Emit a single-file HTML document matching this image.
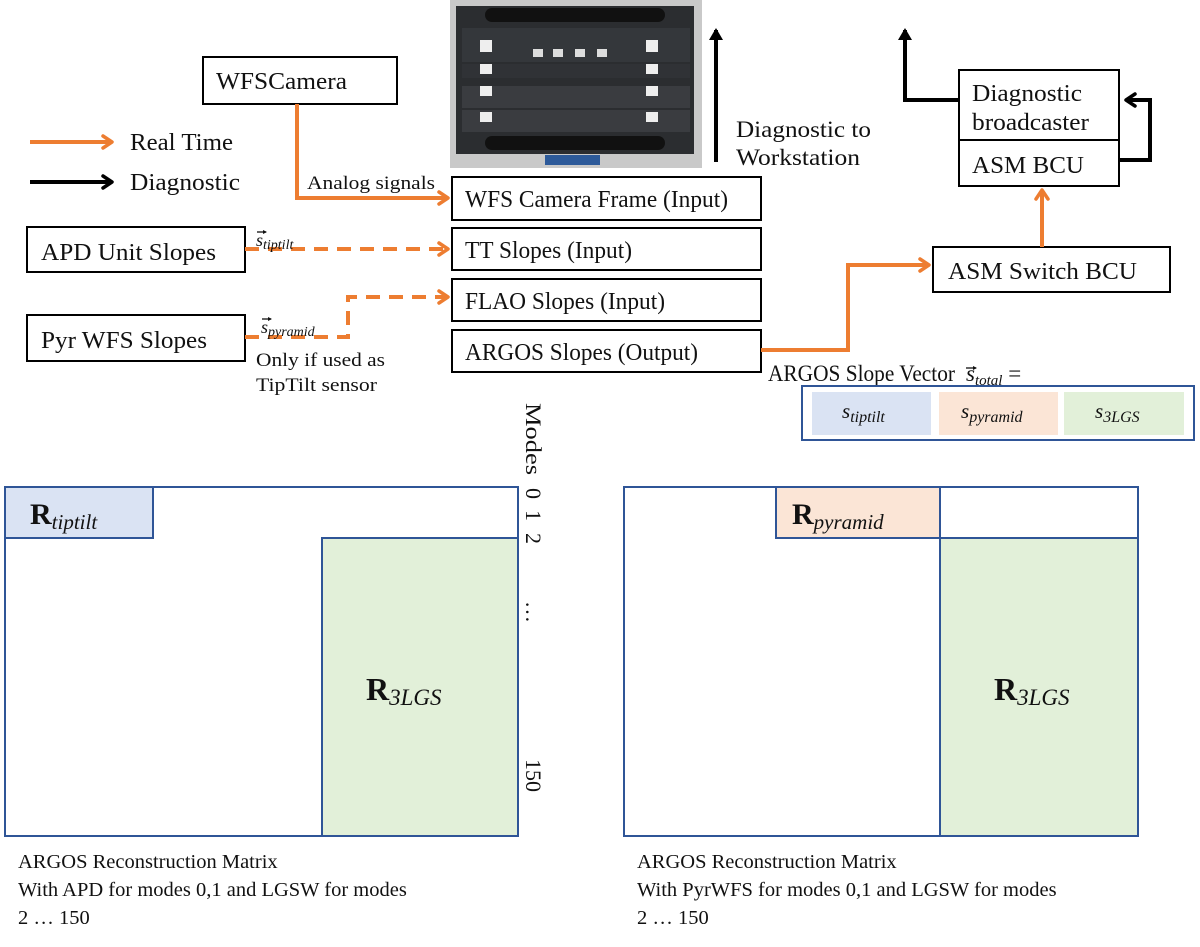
<!DOCTYPE html>
<html><head><meta charset="utf-8"><style>
html,body{margin:0;padding:0;background:#fff}
svg{display:block}
text{font-family:"Liberation Serif",serif;fill:#111}
.m{font-style:italic}
</style></head><body>
<svg width="1200" height="947" viewBox="0 0 1200 947" xmlns="http://www.w3.org/2000/svg">
<defs>
<marker id="ao" markerWidth="14" markerHeight="16" refX="11" refY="8" orient="auto" markerUnits="userSpaceOnUse"><path d="M2,2 L11,8 L2,14" fill="none" stroke="#ed7d31" stroke-width="3.5" stroke-linecap="round" stroke-linejoin="round"/></marker>
<marker id="ab" markerWidth="14" markerHeight="16" refX="11" refY="8" orient="auto" markerUnits="userSpaceOnUse"><path d="M2,2 L11,8 L2,14" fill="none" stroke="#000" stroke-width="3.5" stroke-linecap="round" stroke-linejoin="round"/></marker>
<marker id="abf" markerWidth="12" markerHeight="14" refX="10" refY="7" orient="auto" markerUnits="userSpaceOnUse"><path d="M0,0 L12,7 L0,14 z" fill="#000"/></marker>
<marker id="av" markerWidth="4" markerHeight="4" refX="3" refY="2" orient="auto" markerUnits="userSpaceOnUse"><path d="M0,0 L4,2 L0,4 z" fill="#111"/></marker>
</defs>
<!-- photo -->
<rect x="450" y="0" width="252" height="168" fill="#c9c9c9"/>
<rect x="456" y="6" width="238" height="148" fill="#2b2d30"/>
<rect x="485" y="8" width="180" height="14" rx="7" fill="#111"/>
<rect x="485" y="136" width="180" height="14" rx="7" fill="#111"/>
<rect x="462" y="28" width="228" height="34" fill="#34373b"/>
<rect x="462" y="64" width="228" height="14" fill="#303236"/>
<rect x="462" y="86" width="228" height="22" fill="#3a3c40"/>
<rect x="462" y="110" width="228" height="22" fill="#3a3c40"/>
<rect x="480" y="40" width="12" height="12" fill="#eee"/><rect x="646" y="40" width="12" height="12" fill="#eee"/>
<rect x="480" y="64" width="12" height="10" fill="#eee"/><rect x="646" y="64" width="12" height="10" fill="#eee"/>
<rect x="480" y="86" width="12" height="10" fill="#eee"/><rect x="646" y="86" width="12" height="10" fill="#eee"/>
<rect x="480" y="112" width="12" height="10" fill="#eee"/><rect x="646" y="112" width="12" height="10" fill="#eee"/>
<rect x="533" y="49" width="10" height="8" fill="#ddd"/><rect x="553" y="49" width="10" height="8" fill="#ddd"/><rect x="575" y="49" width="10" height="8" fill="#ddd"/><rect x="597" y="49" width="10" height="8" fill="#ddd"/>
<rect x="545" y="155" width="55" height="10" fill="#2d5a9a"/>
<!-- black arrows -->
<line x1="716" y1="162" x2="716" y2="30" stroke="#000" stroke-width="4" marker-end="url(#abf)"/>
<polyline points="959,100 905,100 905,30" fill="none" stroke="#000" stroke-width="4" marker-end="url(#abf)"/>
<polyline points="1119,160 1150,160 1150,100 1126,100" fill="none" stroke="#000" stroke-width="4" marker-end="url(#ab)"/>
<text x="736" y="137" font-size="23" textLength="135" lengthAdjust="spacingAndGlyphs">Diagnostic to</text>
<text x="736" y="165" font-size="23" textLength="124" lengthAdjust="spacingAndGlyphs">Workstation</text>
<!-- legend -->
<line x1="30" y1="142" x2="112" y2="142" stroke="#ed7d31" stroke-width="4" marker-end="url(#ao)"/>
<text x="130" y="150" font-size="24" textLength="103" lengthAdjust="spacingAndGlyphs">Real Time</text>
<line x1="30" y1="182" x2="112" y2="182" stroke="#000" stroke-width="4" marker-end="url(#ab)"/>
<text x="130" y="190" font-size="24" textLength="110" lengthAdjust="spacingAndGlyphs">Diagnostic</text>
<!-- boxes -->
<g fill="#fff" stroke="#000" stroke-width="2">
<rect x="203" y="57" width="194" height="47"/>
<rect x="452" y="177" width="309" height="43"/>
<rect x="452" y="228" width="309" height="42"/>
<rect x="452" y="279" width="309" height="42"/>
<rect x="452" y="330" width="309" height="42"/>
<rect x="27" y="227" width="218" height="45"/>
<rect x="27" y="315" width="218" height="46"/>
<rect x="959" y="70" width="160" height="116"/>
<line x1="959" y1="140" x2="1119" y2="140"/>
<rect x="933" y="247" width="237" height="45"/>
</g>
<g font-size="24">
<text x="216" y="89" textLength="131" lengthAdjust="spacingAndGlyphs">WFSCamera</text>
<text x="465" y="207" textLength="263" lengthAdjust="spacingAndGlyphs">WFS Camera Frame (Input)</text>
<text x="465" y="258" textLength="167" lengthAdjust="spacingAndGlyphs">TT Slopes (Input)</text>
<text x="465" y="309" textLength="200" lengthAdjust="spacingAndGlyphs">FLAO Slopes (Input)</text>
<text x="465" y="360" textLength="233" lengthAdjust="spacingAndGlyphs">ARGOS Slopes (Output)</text>
<text x="41" y="260" textLength="175" lengthAdjust="spacingAndGlyphs">APD Unit Slopes</text>
<text x="41" y="348" textLength="166" lengthAdjust="spacingAndGlyphs">Pyr WFS Slopes</text>
<text x="972" y="101" textLength="110" lengthAdjust="spacingAndGlyphs">Diagnostic</text>
<text x="972" y="130" textLength="117" lengthAdjust="spacingAndGlyphs">broadcaster</text>
<text x="972" y="173" textLength="112" lengthAdjust="spacingAndGlyphs">ASM BCU</text>
<text x="948" y="279" textLength="189" lengthAdjust="spacingAndGlyphs">ASM Switch BCU</text>
</g>
<!-- orange connectors -->
<g fill="none" stroke="#ed7d31" stroke-width="4">
<polyline points="297,104 297,198 448,198" marker-end="url(#ao)"/>
<line x1="245" y1="249" x2="448" y2="249" stroke-dasharray="14,9" marker-end="url(#ao)"/>
<polyline points="245,337 348,337 348,297 448,297" stroke-dasharray="14,9" marker-end="url(#ao)"/>
<polyline points="761,350 848,350 848,265 929,265" marker-end="url(#ao)"/>
<line x1="1042" y1="247" x2="1042" y2="190" marker-end="url(#ao)"/>
</g>
<text x="307" y="189" font-size="19" textLength="128" lengthAdjust="spacingAndGlyphs">Analog signals</text>
<!-- vectors: small arrows -->
<g stroke="#111" stroke-width="1.3" fill="none" marker-end="url(#av)">
<line x1="257" y1="232" x2="266" y2="232"/>
<line x1="262" y1="319" x2="271" y2="319"/>
<line x1="966" y1="368" x2="976" y2="368"/>
<line x1="843" y1="403" x2="853" y2="403"/>
<line x1="962" y1="403" x2="972" y2="403"/>
<line x1="1096" y1="403" x2="1106" y2="403"/>
</g>
<text x="256" y="246" font-size="18" class="m">s<tspan font-size="14" dy="3">tiptilt</tspan></text>
<text x="261" y="333" font-size="18" class="m">s<tspan font-size="14" dy="3">pyramid</tspan></text>
<text x="256" y="366" font-size="19" textLength="129" lengthAdjust="spacingAndGlyphs">Only if used as</text>
<text x="256" y="391" font-size="19" textLength="121" lengthAdjust="spacingAndGlyphs">TipTilt sensor</text>
<!-- slope vector -->
<text x="768" y="381" font-size="23" textLength="187" lengthAdjust="spacingAndGlyphs">ARGOS Slope Vector</text>
<text x="966" y="381" font-size="23" class="m">s<tspan font-size="15" dy="4">total</tspan><tspan dy="-4" font-style="normal"> =</tspan></text>
<rect x="802" y="386" width="392" height="54" fill="#fff" stroke="#2f5597" stroke-width="2"/>
<rect x="812" y="392" width="119" height="43" fill="#dae3f3"/>
<rect x="939" y="392" width="119" height="43" fill="#fbe5d6"/>
<rect x="1064" y="392" width="120" height="43" fill="#e2f0d9"/>
<text x="842" y="418" font-size="21" class="m">s<tspan font-size="16" dy="4">tiptilt</tspan></text>
<text x="961" y="418" font-size="21" class="m">s<tspan font-size="16" dy="4">pyramid</tspan></text>
<text x="1095" y="418" font-size="21" class="m">s<tspan font-size="16" dy="4">3LGS</tspan></text>
<!-- left matrix -->
<rect x="5" y="487" width="513" height="349" fill="#fff" stroke="#2f5597" stroke-width="2"/>
<rect x="5" y="487" width="148" height="51" fill="#dae3f3" stroke="#2f5597" stroke-width="2"/>
<rect x="322" y="538" width="196" height="298" fill="#e2f0d9" stroke="#2f5597" stroke-width="2"/>
<text x="30" y="524" font-size="30" font-weight="bold">R<tspan font-size="21" font-weight="normal" class="m" dy="5">tiptilt</tspan></text>
<text x="366" y="700" font-size="32" font-weight="bold">R<tspan font-size="23" font-weight="normal" class="m" dy="5">3LGS</tspan></text>
<g transform="translate(526,403) rotate(90)" font-size="22">
<text x="0" y="0" textLength="72" lengthAdjust="spacingAndGlyphs">Modes</text><text x="85" y="0">0</text><text x="107" y="0">1</text><text x="130" y="0">2</text>
<text x="198" y="0">…</text><text x="356" y="0">150</text></g>
<!-- right matrix -->
<rect x="624" y="487" width="514" height="349" fill="#fff" stroke="#2f5597" stroke-width="2"/>
<rect x="776" y="487" width="164" height="51" fill="#fbe5d6" stroke="#2f5597" stroke-width="2"/>
<rect x="940" y="487" width="198" height="51" fill="#fff" stroke="#2f5597" stroke-width="2"/>
<rect x="940" y="538" width="198" height="298" fill="#e2f0d9" stroke="#2f5597" stroke-width="2"/>
<text x="792" y="524" font-size="30" font-weight="bold">R<tspan font-size="21" font-weight="normal" class="m" dy="5">pyramid</tspan></text>
<text x="994" y="700" font-size="32" font-weight="bold">R<tspan font-size="23" font-weight="normal" class="m" dy="5">3LGS</tspan></text>
<!-- captions -->
<g font-size="20.5">
<text x="18" y="868">ARGOS Reconstruction Matrix</text>
<text x="18" y="896">With APD for modes 0,1 and LGSW for modes</text>
<text x="18" y="924">2 … 150</text>
<text x="637" y="868">ARGOS Reconstruction Matrix</text>
<text x="637" y="896">With PyrWFS for modes 0,1 and LGSW for modes</text>
<text x="637" y="924">2 … 150</text>
</g>
</svg>
</body></html>
